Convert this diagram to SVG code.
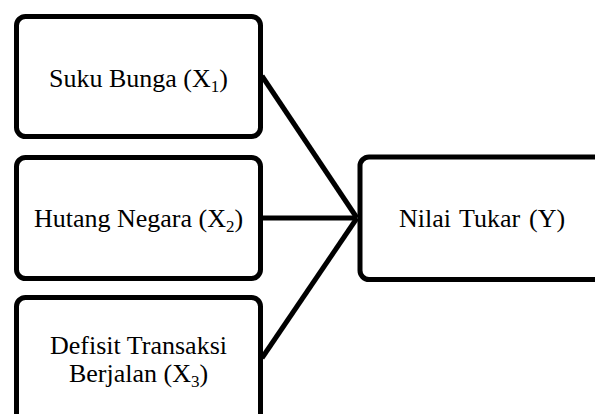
<svg xmlns="http://www.w3.org/2000/svg" width="595" height="414" viewBox="0 0 595 414">
<style>
.box{fill:#fff;stroke:#000;stroke-width:5}
.conn{stroke:#000;stroke-width:5;fill:none;stroke-linecap:butt}
text{font-family:"Liberation Serif","Times New Roman",serif;font-size:26px;fill:#000}
.sub{font-size:17px}
</style>
<rect width="595" height="414" fill="#fff"/>
<g id="connectors">
<line class="conn" x1="262" y1="76" x2="357" y2="218"/>
<line class="conn" x1="262" y1="218" x2="357" y2="218"/>
<line class="conn" x1="262" y1="358" x2="357" y2="218"/>
</g>
<g id="node-x1">
<rect class="box" x="16.5" y="16.5" width="244" height="120" rx="9"/>
<text x="138.5" y="87" text-anchor="middle">Suku Bunga (X<tspan class="sub" dy="5">1</tspan><tspan dy="-5">)</tspan></text>
</g>
<g id="node-x2">
<rect class="box" x="16.5" y="157.5" width="244" height="121" rx="9"/>
<text x="138.5" y="227" text-anchor="middle">Hutang Negara (X<tspan class="sub" dy="5">2</tspan><tspan dy="-5">)</tspan></text>
</g>
<g id="node-x3">
<rect class="box" x="16.5" y="297.5" width="244" height="140" rx="9"/>
<text x="138.5" y="354" text-anchor="middle">Defisit Transaksi</text>
<text x="138.5" y="381.5" text-anchor="middle">Berjalan (X<tspan class="sub" dy="5">3</tspan><tspan dy="-5">)</tspan></text>
</g>
<g id="node-y">
<rect class="box" x="360" y="157" width="280" height="122.5" rx="9"/>
<text y="227"><tspan x="399">Nilai</tspan><tspan x="459">Tukar</tspan><tspan x="529">(Y)</tspan></text>
</g>
</svg>
